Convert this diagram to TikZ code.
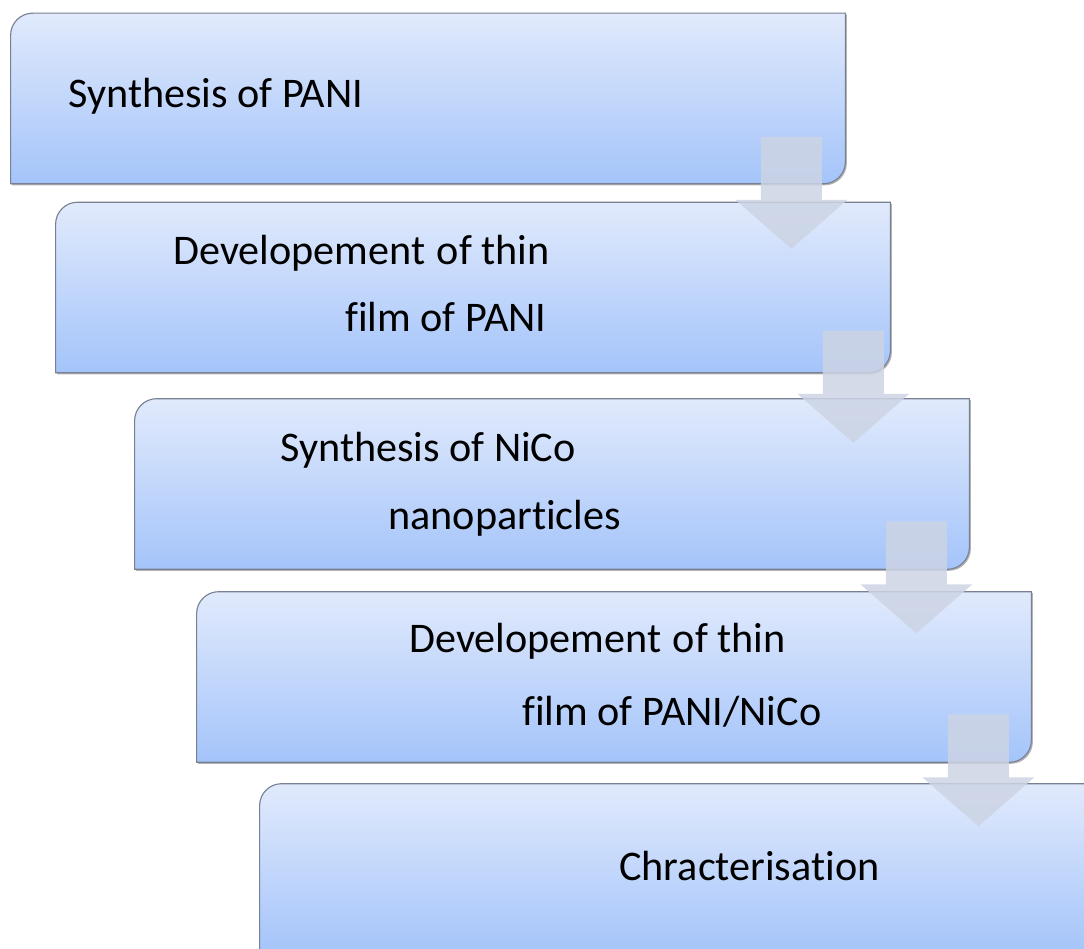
\documentclass[tikz,border=0pt]{standalone}
\usepackage{fontspec}
\setmainfont{Carlito}[Ligatures=NoCommon]
\usetikzlibrary{calc}
\definecolor{boxtop}{RGB}{225,234,252}
\definecolor{boxbot}{RGB}{164,196,250}
\definecolor{boxedge}{RGB}{120,129,148}
\definecolor{flowgray}{RGB}{204,212,228}

\begin{document}
\begin{tikzpicture}[
  x=0.025cm, y=0.025cm,
  stage/.style={rectangle, inner sep=0pt, minimum width=20.85cm, minimum height=4.25cm},
  outline/.style={draw=boxedge, line width=0.8pt, top color=boxtop, bottom color=boxbot},
  shade/.style={fill=black, fill opacity=0.3},
  lbl/.style={anchor=base west, inner sep=0pt, font=\fontsize{30}{36}\selectfont},
  flow/.style={fill=flowgray, fill opacity=0.85},
]
\useasboundingbox (0,0) rectangle (1084,948);
\clip (0,0) rectangle (1084,948);

%% Stages
\node[stage] (b1) at (428,849.5) {};
\node[stage] (b2) at (473,660.5) {};
\node[stage] (b3) at (552,464)   {};
\node[stage] (b4) at (614,271)   {};
\node[stage] (b5) at (677,79)    {};

\foreach \i in {1,...,5}{
  \fill[shade] ($(b\i.south west)+(1.5,-1.5)$) -- ($(b\i.north west)+(1.5,-23.5)$) arc[start angle=180, end angle=90, radius=22] -- ($(b\i.north east)+(1.5,-1.5)$) -- ($(b\i.south east)+(1.5,20.5)$) arc[start angle=0, end angle=-90, radius=22] -- cycle;
  \draw[outline] (b\i.south west) -- ($(b\i.north west)+(0,-22)$) arc[start angle=180, end angle=90, radius=22] -- (b\i.north east) -- ($(b\i.south east)+(0,22)$) arc[start angle=0, end angle=-90, radius=22] -- cycle;
}

%% Labels
\node[lbl] (t1)  at (68,840)  {Synthesis of PANI};
\node[lbl] (t2a) at (173,683) {Developement\hspace{0.05em} of thin};
\node[lbl] (t2b) at (345,616) {film of PANI};
\node[lbl] (t3a) at (280,486) {Synthesis of NiCo};
\node[lbl] (t3b) at (388,418) {nanoparticles};
\node[lbl] (t4a) at (409,295) {Developement\hspace{0.05em} of thin};
\node[lbl] (t4b) at (522,223) {film of PANI/NiCo};
\node[lbl] (t5)  at (619,68)  {Chracterisation};

%% Flow arrows
\foreach \i/\dx/\dy in {1/-54/47, 2/-37/42, 3/-53/48, 4/-53/48}{
  \coordinate (a\i) at ($(b\i.south east)+(\dx,\dy)$);
  \fill[flow] (a\i) ++(-30.5,0) -- ++(61,0) -- ++(0,-63) -- ++(25.5,0) -- ++(-56,-49) -- ++(-56,49) -- ++(25.5,0) -- cycle;
}
\end{tikzpicture}
\end{document}
